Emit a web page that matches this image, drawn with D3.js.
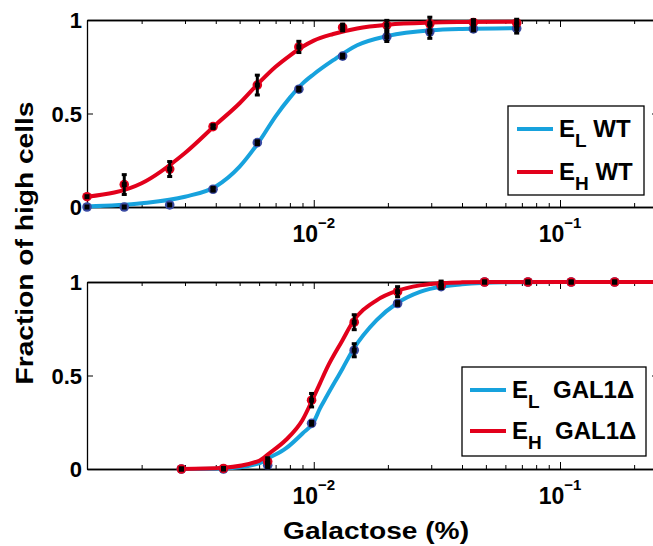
<!DOCTYPE html>
<html>
<head>
<meta charset="utf-8">
<script src="https://cdn.jsdelivr.net/npm/d3@7"></script>
<style>
  body { margin: 0; background: #fff; }
  text { font-family: "Liberation Sans", Arial, Helvetica, sans-serif; font-weight: bold; fill: #000; }
</style>
</head>
<body>
<script>
// ---- data: top panel (WT) ----
const wtX    = [0.0012, 0.0017, 0.0026, 0.0039, 0.0059, 0.0087, 0.0131, 0.0198, 0.0296, 0.0445, 0.0667];
const wtHigh = [0.055, 0.12, 0.203, 0.43, 0.652, 0.856, 0.96, 0.973, 0.98, 0.987, 0.984];
const wtHighErr = [0, 0.053, 0.04, 0.01, 0.053, 0.03, 0.018, 0.025, 0.035, 0.015, 0.02];
const wtLow  = [0.0, 0.0, 0.011, 0.095, 0.344, 0.63, 0.807, 0.91, 0.937, 0.952, 0.955];
const wtLowErr = [0, 0, 0, 0.01, 0.01, 0.01, 0.01, 0.025, 0.035, 0.01, 0.025];

// fitted curves, top panel
const wtFitX    = [0.0012, 0.002, 0.003, 0.004, 0.005, 0.006, 0.007, 0.008, 0.009, 0.01, 0.012, 0.015, 0.02, 0.03, 0.04, 0.0667];
const wtFitHigh = [0.055, 0.127, 0.289, 0.44, 0.555, 0.665, 0.75, 0.81, 0.857, 0.89, 0.925, 0.955, 0.975, 0.986, 0.989, 0.991];
const wtFitLow  = [0.003, 0.02, 0.055, 0.11, 0.216, 0.35, 0.485, 0.585, 0.66, 0.71, 0.785, 0.865, 0.915, 0.945, 0.952, 0.956];

// ---- data: bottom panel (GAL1 deletion) ----
const galX    = [0.0029, 0.0043, 0.0065, 0.0098, 0.0146, 0.0219, 0.0329, 0.0494, 0.0741, 0.111, 0.1667];
const galHigh = [0.0, 0.003, 0.04, 0.368, 0.785, 0.948, 0.985, 1, 1, 1, 1];
const galHighErr = [0, 0, 0.02, 0.036, 0.04, 0.027, 0.02, 0, 0, 0, 0];
const galLow  = [0.0, 0.0, 0.02, 0.244, 0.635, 0.885, 0.975, 1, 1, 1, 1];
const galLowErr = [0, 0, 0.015, 0.01, 0.035, 0.01, 0.01, 0, 0, 0, 0];

const galFitX    = [0.0029, 0.0043, 0.006, 0.0066, 0.0077, 0.009, 0.01, 0.0106, 0.0113, 0.0131, 0.0144, 0.018, 0.0217, 0.027, 0.0336, 0.04, 0.06, 0.1, 0.3];
const galFitHigh = [0, 0.007, 0.044, 0.084, 0.155, 0.262, 0.386, 0.458, 0.538, 0.69, 0.786, 0.902, 0.952, 0.982, 0.995, 0.998, 1, 1, 1];
const galFitLow  = [0, 0.003, 0.03, 0.06, 0.11, 0.19, 0.252, 0.324, 0.39, 0.538, 0.635, 0.796, 0.885, 0.947, 0.977, 0.988, 0.998, 1, 1];

// ticks
const majorTicks = [0.01, 0.1];
const majorLabels = ["\u22122", "\u22121"];
const yTicks = [0, 0.5, 1];

const blue = "#17a2dd", red = "#e2001b", navy = "#3a4aa2";

const width = 653, height = 546;
const svg = d3.select("body").append("svg")
    .attr("width", width)
    .attr("height", height);

// shared log x scale (right edge of the axes is just outside the picture)
const xScale = d3.scaleLog().domain([0.0012, 0.25]).range([87, 658]);
const minorTicks = [];
[0.001, 0.01, 0.1].forEach(dec => {
  for (let k = 2; k <= 9; k++) {
    const v = dec * k;
    if (v > 0.0012 && v < 0.25) minorTicks.push(v);
  }
});

const panels = [
  {top: 20, bottom: 207, fitX: wtFitX, fitLow: wtFitLow, fitHigh: wtFitHigh,
   px: wtX, low: wtLow, lowErr: wtLowErr, high: wtHigh, highErr: wtHighErr,
   legend: {x: 508, y: 106, w: 136, h: 89, line: [517, 553], rows: [129, 172], text: 559, label: " WT"}},
  {top: 282, bottom: 469, fitX: galFitX, fitLow: galFitLow, fitHigh: galFitHigh,
   px: galX, low: galLow, lowErr: galLowErr, high: galHigh, highErr: galHighErr,
   legend: {x: 462, y: 367, w: 184, h: 89, line: [470, 506], rows: [390, 431], text: 512, label: "  GAL1\u0394"}}
];

panels.forEach(p => {
  const yScale = d3.scaleLinear().domain([0, 1]).range([p.bottom, p.top]);
  const g = svg.append("g");

  // axes: ticks point inward like MATLAB
  const styleAxis = sel => {
    sel.selectAll("path.domain").attr("stroke", "#000").attr("stroke-width", 1.3);
    sel.selectAll(".tick line").attr("stroke", "#000").attr("stroke-width", 1);
  };
  g.append("g").attr("transform", `translate(0,${p.bottom})`)
    .call(d3.axisBottom(xScale).tickValues(minorTicks).tickSize(-4).tickSizeOuter(0).tickFormat(""))
    .call(styleAxis);
  g.append("g").attr("transform", `translate(0,${p.bottom})`)
    .call(d3.axisBottom(xScale).tickValues(majorTicks).tickSize(-7).tickSizeOuter(0).tickFormat(""))
    .call(styleAxis);
  g.append("g").attr("transform", `translate(0,${p.top})`)
    .call(d3.axisTop(xScale).tickValues(minorTicks).tickSize(-4).tickSizeOuter(0).tickFormat(""))
    .call(styleAxis);
  g.append("g").attr("transform", `translate(0,${p.top})`)
    .call(d3.axisTop(xScale).tickValues(majorTicks).tickSize(-7).tickSizeOuter(0).tickFormat(""))
    .call(styleAxis);
  const yAxis = g.append("g").attr("transform", `translate(${xScale.range()[0]},0)`)
    .call(d3.axisLeft(yScale).tickValues(yTicks).tickSize(-6).tickSizeOuter(0).tickPadding(5).tickFormat(d3.format("")))
    .call(styleAxis);
  yAxis.selectAll("text").attr("font-size", 22).attr("font-family", null).attr("dy", "0.36em");
  g.append("g").attr("transform", `translate(${xScale.range()[1]},0)`)
    .call(d3.axisRight(yScale).tickValues(yTicks).tickSize(-6).tickSizeOuter(0).tickFormat(""))
    .call(styleAxis);

  // 10^k tick labels
  majorTicks.forEach((v, i) => {
    const t = g.append("text")
      .attr("x", xScale(v)).attr("y", p.bottom + 35)
      .attr("text-anchor", "middle").attr("font-size", 23);
    t.append("tspan").text("10");
    t.append("tspan").attr("dy", -14).attr("font-size", 15).text(majorLabels[i]);
  });

  // fitted curves
  const line = d3.line()
    .x((d, i) => xScale(p.fitX[i]))
    .y(d => yScale(d))
    .curve(d3.curveMonotoneX);
  const clipId = "clip" + p.top;
  g.append("clipPath").attr("id", clipId).append("rect")
    .attr("x", xScale.range()[0]).attr("y", p.top - 10)
    .attr("width", xScale.range()[1] - xScale.range()[0]).attr("height", p.bottom - p.top + 20);
  g.append("path").datum(p.fitLow).attr("d", line)
    .attr("fill", "none").attr("stroke", blue).attr("stroke-width", 4).attr("clip-path", `url(#${clipId})`);
  g.append("path").datum(p.fitHigh).attr("d", line)
    .attr("fill", "none").attr("stroke", red).attr("stroke-width", 4).attr("clip-path", `url(#${clipId})`);

  // data points with error bars
  const drawSeries = (vals, fill) => {
    g.append("g").selectAll("circle").data(vals).enter().append("circle")
      .attr("cx", (d, i) => xScale(p.px[i]))
      .attr("cy", d => yScale(d))
      .attr("r", 4.8)
      .attr("fill", fill);
  };
  const drawErr = (vals, errs) => {
    const eb = g.append("g");
    vals.forEach((d, i) => {
      const cx = xScale(p.px[i]);
      const y0 = yScale(d - errs[i]), y1 = yScale(d + errs[i]);
      eb.append("line").attr("x1", cx).attr("x2", cx).attr("y1", y0).attr("y2", y1)
        .attr("stroke", "#000").attr("stroke-width", 3);
      if (errs[i] > 0) {
        eb.append("rect").attr("x", cx - 2.5).attr("y", y1 - 1.5).attr("width", 5).attr("height", 3);
        eb.append("rect").attr("x", cx - 2.5).attr("y", y0 - 1.5).attr("width", 5).attr("height", 3);
      }
      eb.append("rect").attr("x", cx - 2.5).attr("y", yScale(d) - 2.5).attr("width", 5).attr("height", 5);
    });
  };
  drawSeries(p.low, navy);
  drawSeries(p.high, red);
  drawErr(p.low, p.lowErr);
  drawErr(p.high, p.highErr);

  // legend
  const L = p.legend;
  const lg = g.append("g");
  lg.append("rect").attr("x", L.x).attr("y", L.y).attr("width", L.w).attr("height", L.h)
    .attr("fill", "#fff").attr("stroke", "#000").attr("stroke-width", 1.3);
  [[blue, "L"], [red, "H"]].forEach(([c, sub], i) => {
    const ry = L.rows[i];
    lg.append("line").attr("x1", L.line[0]).attr("x2", L.line[1]).attr("y1", ry).attr("y2", ry)
      .attr("stroke", c).attr("stroke-width", 4);
    const t = lg.append("text").attr("x", L.text).attr("y", ry + 8).attr("font-size", 24)
      .attr("xml:space", "preserve");
    t.append("tspan").text("E");
    t.append("tspan").attr("dy", 10).attr("font-size", 19).text(sub);
    t.append("tspan").attr("dy", -10).text(L.label);
  });
});

// axis titles
svg.append("text")
  .attr("x", 376).attr("y", 539)
  .attr("text-anchor", "middle").attr("font-size", 23)
  .attr("textLength", 186).attr("lengthAdjust", "spacingAndGlyphs")
  .text("Galactose (%)");

svg.append("text")
  .attr("transform", "translate(33,243) rotate(-90)")
  .attr("text-anchor", "middle").attr("font-size", 23)
  .attr("textLength", 283).attr("lengthAdjust", "spacingAndGlyphs")
  .text("Fraction of high cells");
</script>
</body>
</html>
